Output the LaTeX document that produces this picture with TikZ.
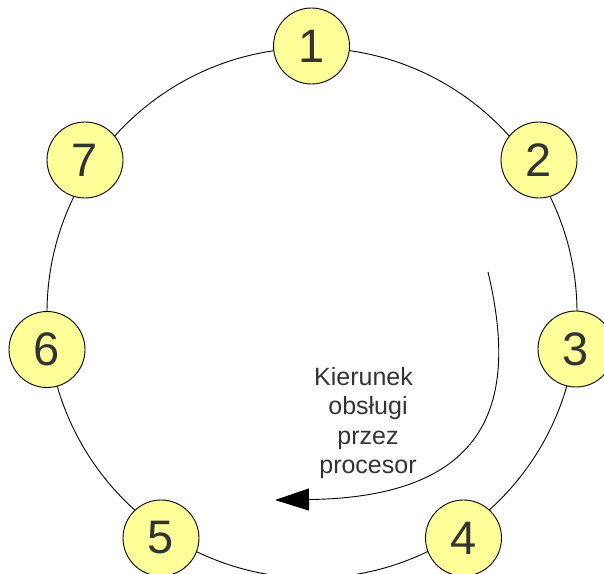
\documentclass[tikz,border=0pt]{standalone}
\usepackage{fontspec}
\setmainfont{Liberation Sans}
\usetikzlibrary{arrows.meta}
\definecolor{nodefill}{HTML}{FFFF99}
\definecolor{txt}{HTML}{333333}
\tikzset{
  procnode/.style={circle, draw=black, line width=0.9pt, fill=nodefill, minimum size=76pt, inner sep=0pt,
    text=txt, font=\fontsize{47}{47}\selectfont},
  ring/.style={circle, draw=black, line width=0.9pt, minimum size=530pt, inner sep=0pt},
  dirarrow/.style={draw=black, line width=0.9pt, -{Triangle[length=34pt,width=22pt]}},
  label/.style={text=txt, align=center, inner sep=0pt, font=\fontsize{25}{29.5}\selectfont}
}
\begin{document}
\begin{tikzpicture}[x=1pt,y=-1pt]
\useasboundingbox (0,0) rectangle (604,573);
\clip (0,0) rectangle (604,573);
\node[ring] (ring) at (312,313) {};
\node[procnode] (n1) at (311.5,46) {1};
\node[procnode] (n2) at (539,160) {2};
\node[procnode] (n3) at (576,349) {3};
\node[procnode] (n4) at (463.5,538) {4};
\node[procnode] (n5) at (161,538) {5};
\node[procnode] (n6) at (47,349.5) {6};
\node[procnode] (n7) at (85,160) {7};
\coordinate (as) at (488,272);
\coordinate (ae) at (275,500);
\draw[dirarrow] (as) .. controls (516,390) and (500,497) .. (ae);
\node[label] (lbl) at (368,423) {Kierunek\hspace*{9pt}\\obsługi\\przez\\procesor};
\end{tikzpicture}
\end{document}
